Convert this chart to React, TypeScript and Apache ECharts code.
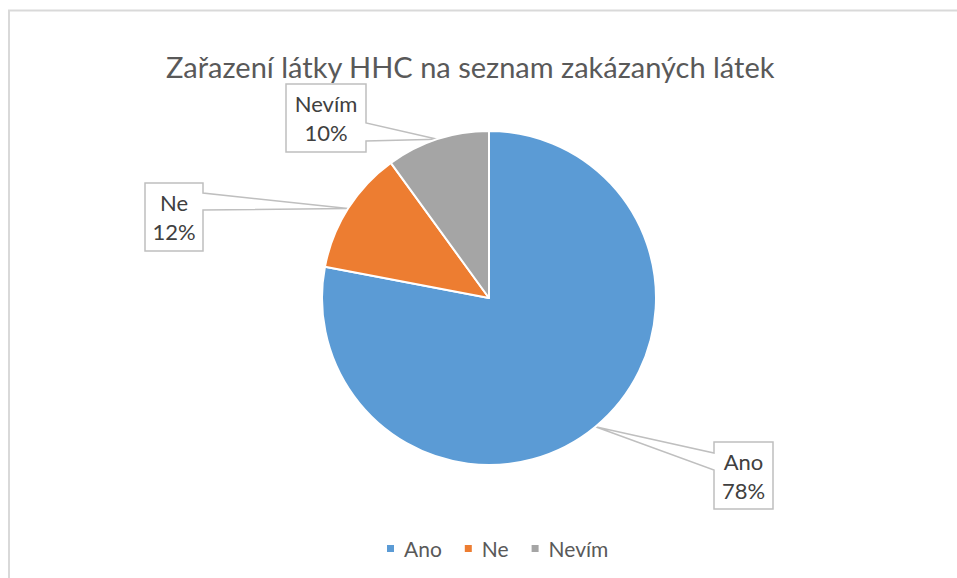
import React, { useEffect, useRef } from 'react';
import * as echarts from 'echarts';

const titleText = 'Zařazení látky HHC na seznam zakázaných látek';
const categories = ['Ano', 'Ne', 'Nevím'];
const values = [78, 12, 10];
const colors = ['#5B9BD5', '#ED7D31', '#A5A5A5'];

const FONT = 'Lato, "Noto Sans", sans-serif';
const CENTER = [489, 298];
const RADIUS = 167;

// callout boxes (layout): box rect, side where wedge leaves, wedge attach offsets
const callouts = [
  { x: 714, y: 442, w: 59, h: 67, side: 'left', a: 11, b: 28 },
  { x: 145, y: 183, w: 58, h: 68, side: 'right', a: 10, b: 27 },
  { x: 286, y: 84, w: 80, h: 68, side: 'right', a: 39, b: 57 },
];

function tipPoint(i: number): number[] {
  const total = values.reduce((s, v) => s + v, 0);
  let cum = 0;
  for (let k = 0; k < i; k++) cum += values[k];
  const frac = (cum + values[i] / 2) / total;
  const th = frac * Math.PI * 2;
  return [CENTER[0] + RADIUS * Math.sin(th), CENTER[1] - RADIUS * Math.cos(th)];
}

function calloutPolygon(i: number): number[][] {
  const c = callouts[i];
  const t = tipPoint(i);
  if (c.side === 'right') {
    const r = c.x + c.w;
    return [
      [c.x, c.y], [r, c.y], [r, c.y + c.a], t, [r, c.y + c.b], [r, c.y + c.h], [c.x, c.y + c.h],
    ];
  }
  return [
    [c.x, c.y], [c.x + c.w, c.y], [c.x + c.w, c.y + c.h], [c.x, c.y + c.h], [c.x, c.y + c.b], t, [c.x, c.y + c.a],
  ];
}

export default function App() {
  const ref = useRef<HTMLDivElement>(null);
  useEffect(() => {
    if (!ref.current) return;
    const chart = echarts.init(ref.current, undefined, { renderer: 'svg' });
    const graphics: any[] = [
      {
        type: 'rect',
        z: 0,
        shape: { x: 9, y: 10.5, width: 1200, height: 1200 },
        style: { fill: 'none', stroke: '#d9d9d9', lineWidth: 2 },
      },
    ];
    categories.forEach((_, i) => {
      graphics.push({
        type: 'polygon',
        z: 1,
        shape: { points: calloutPolygon(i) },
        style: { fill: '#ffffff', stroke: '#bfbfbf', lineWidth: 1.5 },
      });
    });
    chart.setOption({
      animation: false,
      backgroundColor: '#ffffff',
      color: colors,
      title: {
        text: titleText,
        left: 161,
        top: 47,
        textStyle: { fontFamily: FONT, fontSize: 29, fontWeight: 'normal', color: '#595959' },
      },
      legend: {
        data: categories,
        bottom: 19,
        left: 385,
        padding: 0,
        icon: 'rect',
        itemWidth: 9,
        itemHeight: 9,
        itemGap: 21,
        textStyle: { fontFamily: FONT, fontSize: 21, color: '#595959', padding: [0, 0, 0, 4] },
      },
      graphic: graphics,
      series: [
        {
          type: 'pie',
          center: CENTER,
          radius: RADIUS,
          startAngle: 90,
          clockwise: true,
          z: 2,
          itemStyle: { borderColor: '#ffffff', borderWidth: 2 },
          label: {
            show: true,
            position: 'outside',
            formatter: (p: any) => `${p.name}\n${Math.round(p.percent)}%`,
            fontFamily: FONT,
            fontSize: 22,
            lineHeight: 29,
            color: '#404040',
          },
          labelLine: { show: false },
          labelLayout: (params: any) => {
            const c = callouts[params.dataIndex];
            return { x: c.x + c.w / 2, y: c.y + c.h / 2, align: 'center', verticalAlign: 'middle' };
          },
          emphasis: { disabled: true },
          data: categories.map((name, i) => ({ name, value: values[i] })),
        },
      ],
    });
    return () => chart.dispose();
  }, []);
  return <div ref={ref} style={{ position: 'absolute', left: 0, top: 0, width: 957, height: 578 }} />;
}
